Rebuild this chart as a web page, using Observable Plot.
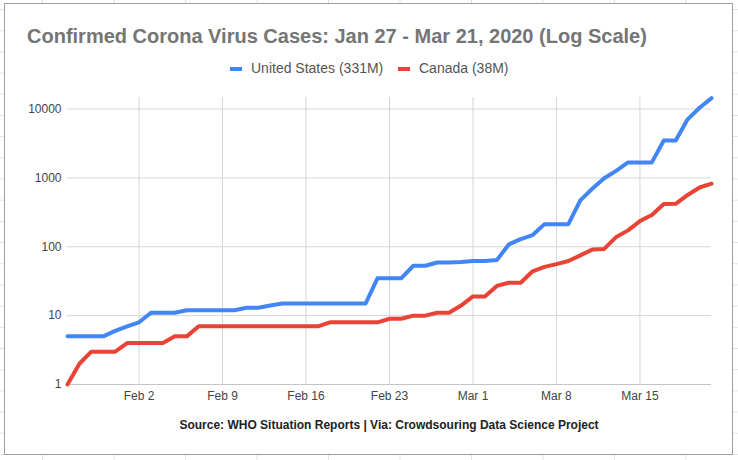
<!DOCTYPE html>
<html>
<head>
<meta charset="utf-8">
<script src="https://cdn.jsdelivr.net/npm/d3@7"></script>
<script src="https://cdn.jsdelivr.net/npm/@observablehq/plot@0.6"></script>
<style>
html, body { margin: 0; padding: 0; }
body {
  width: 738px; height: 460px; position: relative; overflow: hidden;
  font-family: "Liberation Sans", Arial, sans-serif;
  background-color: #fff;
  background-image: linear-gradient(to right, #e2e2e2 1px, transparent 1px),
                    linear-gradient(to bottom, #e2e2e2 1px, transparent 1px);
  background-size: 71.5px 21.2px;
  background-position: 42px 9px;
}
#frame {
  position: absolute; left: 4px; top: 3px; width: 729px; height: 452px;
  box-sizing: border-box; border: 1px solid #9e9e9e; background: #fff;
}
#title {
  position: absolute; left: 27px; top: 26px; font-size: 20px; line-height: 20px;
  font-weight: bold; color: #757575; white-space: nowrap;
}
.leg { position: absolute; top: 61px; font-size: 14px; line-height: 14px; color: #555; white-space: nowrap; }
.sw { position: absolute; top: 67px; width: 12px; height: 4px; }
#chart { position: absolute; left: 0; top: 85px; }
#caption {
  position: absolute; left: 67px; width: 644px; top: 419px; text-align: center;
  font-size: 12px; line-height: 12px; font-weight: bold; color: #222; white-space: nowrap;
}
</style>
</head>
<body>
<div id="frame"></div>
<div id="title"></div>
<div id="legend"></div>
<div id="chart"></div>
<div id="caption"></div>
<script>
// ---- data ----
const titleText = "Confirmed Corona Virus Cases: Jan 27 - Mar 21, 2020 (Log Scale)";
const captionText = "Source: WHO Situation Reports | Via: Crowdsouring Data Science Project";
const seriesNames = ["United States (331M)", "Canada (38M)"];
const dates = [
  "2020-01-27","2020-01-28","2020-01-29","2020-01-30","2020-01-31",
  "2020-02-01","2020-02-02","2020-02-03","2020-02-04","2020-02-05","2020-02-06","2020-02-07",
  "2020-02-08","2020-02-09","2020-02-10","2020-02-11","2020-02-12","2020-02-13","2020-02-14",
  "2020-02-15","2020-02-16","2020-02-17","2020-02-18","2020-02-19","2020-02-20","2020-02-21",
  "2020-02-22","2020-02-23","2020-02-24","2020-02-25","2020-02-26","2020-02-27","2020-02-28",
  "2020-02-29","2020-03-01","2020-03-02","2020-03-03","2020-03-04","2020-03-05","2020-03-06",
  "2020-03-07","2020-03-08","2020-03-09","2020-03-10","2020-03-11","2020-03-12","2020-03-13",
  "2020-03-14","2020-03-15","2020-03-16","2020-03-17","2020-03-18","2020-03-19","2020-03-20",
  "2020-03-21"
];
const usCases = [
  5, 5, 5, 5, 6,
  7, 8, 11, 11, 11, 12, 12,
  12, 12, 12, 13, 13, 14, 15,
  15, 15, 15, 15, 15, 15, 15,
  35, 35, 35, 53, 53, 59, 59,
  60, 62, 62, 64, 108, 129, 148,
  213, 213, 213, 472, 696, 987, 1264,
  1678, 1678, 1678, 3487, 3503, 7087, 10442,
  14400
];
const caCases = [
  1, 2, 3, 3, 3,
  4, 4, 4, 4, 5, 5, 7,
  7, 7, 7, 7, 7, 7, 7,
  7, 7, 7, 8, 8, 8, 8,
  8, 9, 9, 10, 10, 11, 11,
  14, 19, 19, 27, 30, 30, 44,
  51, 56, 62, 75, 91, 93, 138,
  173, 236, 290, 418, 420, 565, 725,
  824
];
const xTickDates = ["2020-02-02","2020-02-09","2020-02-16","2020-02-23","2020-03-01","2020-03-08","2020-03-15"];
const yTicks = [1, 10, 100, 1000, 10000];
const yMax = 14700;

// ---- build ----
const colors = ["#4285f4", "#ea4335"];
const parse = d3.utcParse("%Y-%m-%d");
const rows = [];
dates.forEach((d, i) => {
  rows.push({date: parse(d), cases: usCases[i], series: seriesNames[0]});
  rows.push({date: parse(d), cases: caCases[i], series: seriesNames[1]});
});
const xTicks = xTickDates.map(parse);

document.getElementById("title").textContent = titleText;
document.getElementById("caption").textContent = captionText;

const legend = document.getElementById("legend");
const legPos = [{sw: 230, tx: 251}, {sw: 398, tx: 419}];
seriesNames.forEach((name, i) => {
  const sw = document.createElement("div");
  sw.className = "sw"; sw.style.left = legPos[i].sw + "px"; sw.style.background = colors[i];
  legend.appendChild(sw);
  const tx = document.createElement("div");
  tx.className = "leg"; tx.style.left = legPos[i].tx + "px"; tx.textContent = name;
  legend.appendChild(tx);
});

const chart = Plot.plot({
  width: 738,
  height: 322,
  marginTop: 12,
  marginBottom: 23,
  marginLeft: 67,
  marginRight: 27,
  style: {fontFamily: "'Liberation Sans', Arial, sans-serif", fontSize: "12px", color: "#444", background: "transparent", overflow: "visible"},
  x: {type: "utc", domain: [parse(dates[0]), parse(dates[dates.length - 1])], label: null},
  y: {type: "log", domain: [1, yMax], label: null},
  color: {domain: seriesNames, range: colors},
  marks: [
    Plot.gridX(xTicks, {stroke: "#d6d6d6", strokeOpacity: 1}),
    Plot.gridY(yTicks, {stroke: "#d6d6d6", strokeOpacity: 1}),
    Plot.ruleY([1], {stroke: "#c4c4c4"}),
    Plot.axisX(xTicks, {tickSize: 0, tickPadding: 7, tickFormat: d3.utcFormat("%b %-d"), fill: "#444", label: null}),
    Plot.axisY(yTicks, {tickSize: 0, tickPadding: 6, tickFormat: d => String(d), fill: "#444", label: null}),
    Plot.line(rows, {x: "date", y: "cases", z: "series", stroke: "series", strokeWidth: 4, strokeLinejoin: "round"})
  ]
});
document.getElementById("chart").appendChild(chart);
</script>
</body>
</html>
